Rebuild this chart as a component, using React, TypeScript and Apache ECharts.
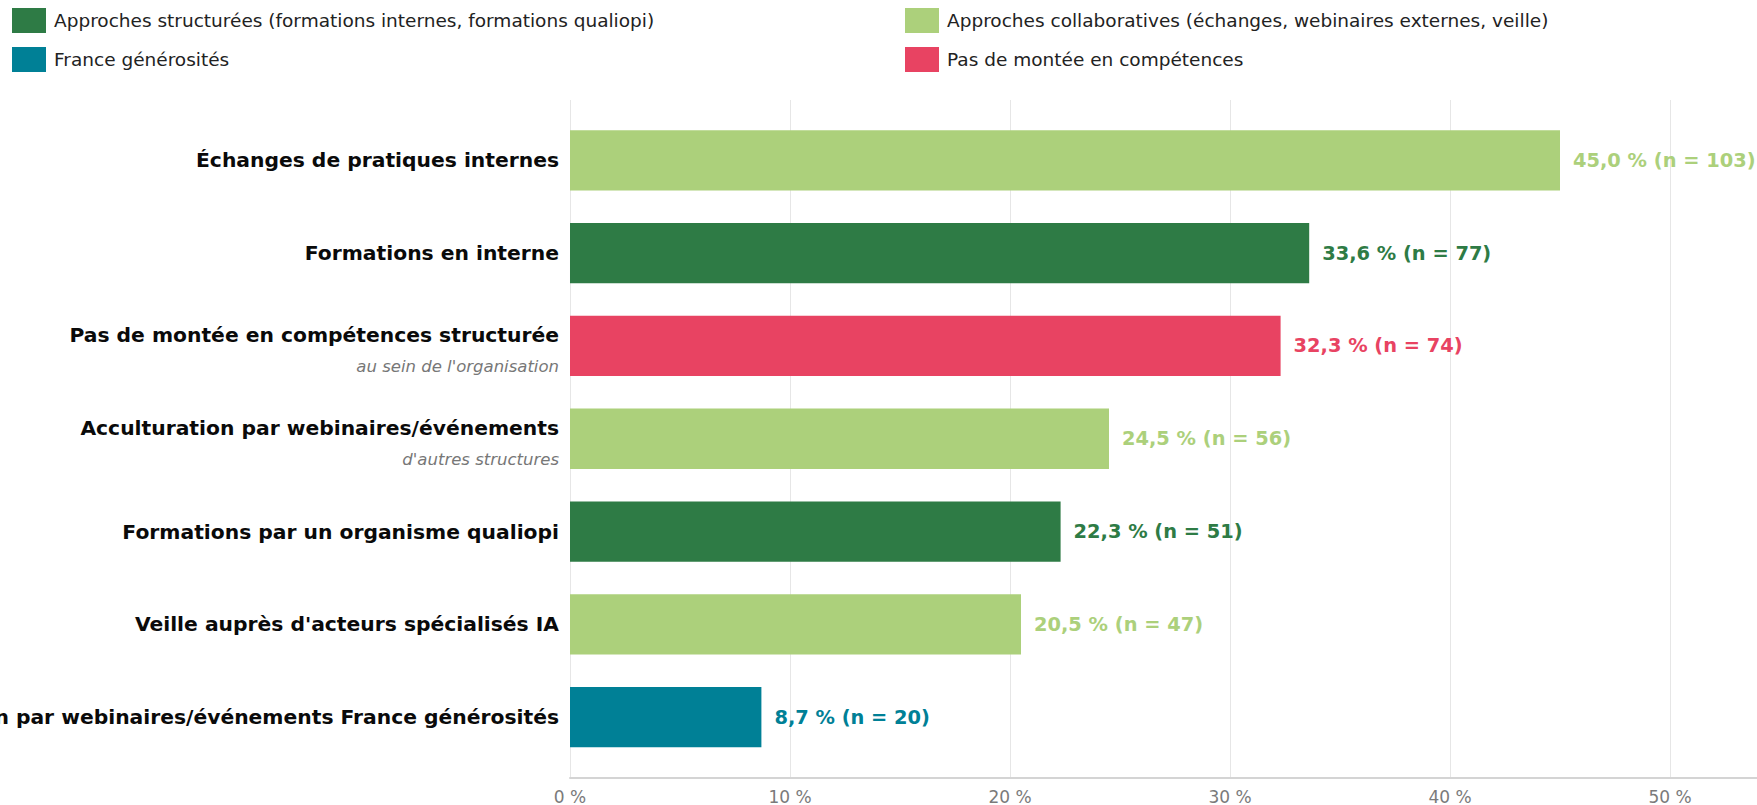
import React, { useEffect, useRef } from "react";
import * as echarts from "echarts";

const categories = [
  "Échanges de pratiques internes",
  "Formations en interne",
  "Pas de montée en compétences structurée",
  "Acculturation par webinaires/événements",
  "Formations par un organisme qualiopi",
  "Veille auprès d'acteurs spécialisés IA",
  "Acculturation par webinaires/événements France générosités",
];
const subtitles = ["", "", "au sein de l'organisation", "d'autres structures", "", "", ""];
const percents = [45.0, 33.6, 32.3, 24.5, 22.3, 20.5, 8.7];
const counts = [103, 77, 74, 56, 51, 47, 20];
const groups = ["collab", "struct", "none", "collab", "struct", "collab", "fg"];

const groupNames: Record<string, string> = {
  struct: "Approches structurées (formations internes, formations qualiopi)",
  collab: "Approches collaboratives (échanges, webinaires externes, veille)",
  fg: "France générosités",
  none: "Pas de montée en compétences",
};
const groupColors: Record<string, string> = {
  struct: "#2E7B45",
  collab: "#ACD07B",
  fg: "#008096",
  none: "#E84362",
};
const groupOrder = ["struct", "collab", "fg", "none"];

const FONT = "DejaVu Sans";

export default function App() {
  const ref = useRef<HTMLDivElement>(null);
  useEffect(() => {
    if (!ref.current) return;
    const chart = echarts.init(ref.current, undefined, { renderer: "svg" });
    const W = 1757;
    const axisLeft = 570;
    const axisMax = (W - axisLeft) / 22;

    const series = groupOrder.map((g) => ({
      name: groupNames[g],
      type: "bar",
      xAxisIndex: 1,
      yAxisIndex: 1,
      barGap: "-100%",
      barCategoryGap: "35%",
      itemStyle: { color: groupColors[g] },
      label: {
        show: true,
        position: "right",
        distance: 13,
        fontFamily: FONT,
        fontSize: 19.4,
        fontWeight: "bold",
        color: groupColors[g],
        formatter: (p: any) =>
          `${percents[p.dataIndex].toFixed(1).replace(".", ",")} % (n = ${counts[p.dataIndex]})`,
      },
      data: percents.map((v, i) => (groups[i] === g ? v : null)),
    }));

    const legendCommon = {
      orient: "vertical",
      top: 3,
      itemWidth: 34,
      itemHeight: 25,
      itemGap: 14,
      icon: "rect",
      selectedMode: false,
      textStyle: { fontFamily: FONT, fontSize: 18.5, color: "#222", padding: [0, 0, 0, 3] },
    };

    chart.setOption({
      animation: false,
      textStyle: { fontFamily: FONT },
      legend: [
        { ...legendCommon, left: 7, data: [groupNames.struct, groupNames.fg] },
        { ...legendCommon, left: 900, data: [groupNames.collab, groupNames.none] },
      ],
      grid: [
        { left: axisLeft, right: 0, top: 100, bottom: 27, outerBoundsMode: "none", containLabel: false },
        { left: axisLeft, right: 0, top: 114, bottom: 41.5, outerBoundsMode: "none", containLabel: false },
      ],
      xAxis: [
        {
          gridIndex: 0,
          type: "value",
          min: 0,
          max: axisMax,
          interval: 10,
          axisLine: { show: true, lineStyle: { color: "#d4d4d4", width: 2 } },
          axisTick: { show: false },
          splitLine: { show: true, showMaxLine: false, lineStyle: { color: "#e6e6e6", width: 1 } },
          axisLabel: {
            fontFamily: FONT,
            fontSize: 17,
            color: "#7a7a7a",
            margin: 10,
            showMaxLabel: false,
            formatter: (v: number) => (Math.abs(v % 10) < 1e-6 ? `${v} %` : ""),
          },
        },
        {
          gridIndex: 1,
          type: "value",
          min: 0,
          max: axisMax,
          show: false,
          splitLine: { show: false },
        },
      ],
      yAxis: [
        { gridIndex: 0, type: "value", show: false, splitLine: { show: false } },
        {
          gridIndex: 1,
          type: "category",
          inverse: true,
          data: categories,
          axisLine: { show: false },
          axisTick: { show: false },
          splitLine: { show: false },
          axisLabel: {
            margin: 11,
            align: "right",
            formatter: (value: string, idx: number) =>
              subtitles[idx] ? `{b2|${value}}\n{s|${subtitles[idx]}}` : `{b|${value}}`,
            rich: {
              b: { fontFamily: FONT, fontSize: 20.3, fontWeight: "bold", color: "#0a0a0a", lineHeight: 24 },
              b2: { fontFamily: FONT, fontSize: 20.3, fontWeight: "bold", color: "#0a0a0a", lineHeight: 42, align: "right" },
              s: { fontFamily: FONT, fontSize: 16.5, fontStyle: "italic", color: "#777", lineHeight: 22, align: "right" },
            },
          },
        },
      ],
      series,
    });
    return () => chart.dispose();
  }, []);
  return (
    <div
      ref={ref}
      style={{ position: "fixed", left: 0, top: 0, width: 1757, height: 805, background: "#fff" }}
    />
  );
}
